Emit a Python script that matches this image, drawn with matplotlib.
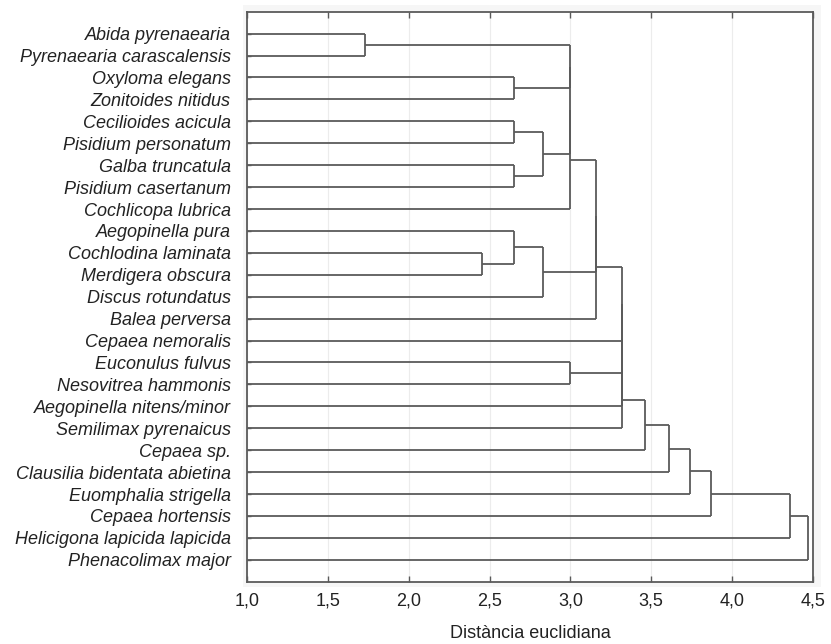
import matplotlib
matplotlib.use("Agg")
import matplotlib.pyplot as plt
from matplotlib.patches import Rectangle

plt.rcParams['font.family'] = ['Liberation Sans', 'DejaVu Sans']

# leaves, top to bottom
species = [
    "Abida pyrenaearia", "Pyrenaearia carascalensis", "Oxyloma elegans",
    "Zonitoides nitidus", "Cecilioides acicula", "Pisidium personatum",
    "Galba truncatula", "Pisidium casertanum", "Cochlicopa lubrica",
    "Aegopinella pura", "Cochlodina laminata", "Merdigera obscura",
    "Discus rotundatus", "Balea perversa", "Cepaea nemoralis",
    "Euconulus fulvus", "Nesovitrea hammonis", "Aegopinella nitens/minor",
    "Semilimax pyrenaicus", "Cepaea sp.", "Clausilia bidentata abietina",
    "Euomphalia strigella", "Cepaea hortensis", "Helicigona lapicida lapicida",
    "Phenacolimax major",
]

# merges: ids < 25 are leaves, new clusters get ids 25, 26, ...
merge_a = [0, 2, 4, 6, 27, 25, 30, 31, 10, 9, 34, 32, 36, 15,
           37, 39, 40, 41, 42, 43, 44, 45, 46, 47]
merge_b = [1, 3, 5, 7, 28, 26, 29, 8, 11, 33, 12, 35, 13, 16,
           14, 38, 17, 18, 19, 20, 21, 22, 23, 24]
merge_h = [1.73, 2.65, 2.65, 2.65, 2.83, 3.00, 3.00, 3.00, 2.45, 2.65,
           2.83, 3.16, 3.16, 3.00, 3.32, 3.32, 3.32, 3.32, 3.46, 3.61,
           3.74, 3.87, 4.36, 4.47]

x_min = 1.0
line_col = '#5a5a5a'
txt_col = '#222222'

fig = plt.figure(figsize=(8.31, 6.44), dpi=100)
# faint grey frame round the plot area
fig.patches.append(Rectangle((243 / 831, 1 - 587 / 644), 578 / 831, 582 / 644,
                             transform=fig.transFigure, facecolor='#f6f6f6',
                             edgecolor='none', zorder=-5))
ax = fig.add_axes([247.3 / 831, 1 - 581.7 / 644, 565.4 / 831, 570 / 644])
ax.set_facecolor('white')

ypos = {i: float(i) for i in range(len(species))}
xpos = {i: x_min for i in range(len(species))}
n = len(species)
for k, (a, b, h) in enumerate(zip(merge_a, merge_b, merge_h)):
    ya, yb = ypos[a], ypos[b]
    ax.plot([xpos[a], h], [ya, ya], color=line_col, lw=1.3, solid_capstyle='butt')
    ax.plot([xpos[b], h], [yb, yb], color=line_col, lw=1.3, solid_capstyle='butt')
    ax.plot([h, h], [ya, yb], color=line_col, lw=1.3, solid_capstyle='butt')
    ypos[n + k] = (ya + yb) / 2
    xpos[n + k] = h

ax.set_xlim(1.0, 4.5)
ax.set_ylim(len(species), -1)
ax.set_yticks(range(len(species)))
ax.set_yticklabels(species, fontstyle='italic', fontsize=13, color=txt_col)
xt = [1.0, 1.5, 2.0, 2.5, 3.0, 3.5, 4.0, 4.5]
ax.set_xticks(xt)
ax.set_xticklabels([f"{v:.1f}".replace('.', ',') for v in xt], fontsize=13,
                   color=txt_col)
ax.tick_params(axis='y', direction='in', length=3, width=1, color=line_col, pad=12)
ax.tick_params(axis='x', direction='in', length=4, width=1, color=line_col, pad=8,
               top=True)
ax.grid(axis='x', color='#ececec', lw=0.8)
ax.set_axisbelow(True)
for s in ax.spines.values():
    s.set_color(line_col)
    s.set_linewidth(1.3)

ax.set_xlabel("Distància euclidiana", fontsize=13, color=txt_col, labelpad=11)

fig.savefig("out.png", dpi=100)
